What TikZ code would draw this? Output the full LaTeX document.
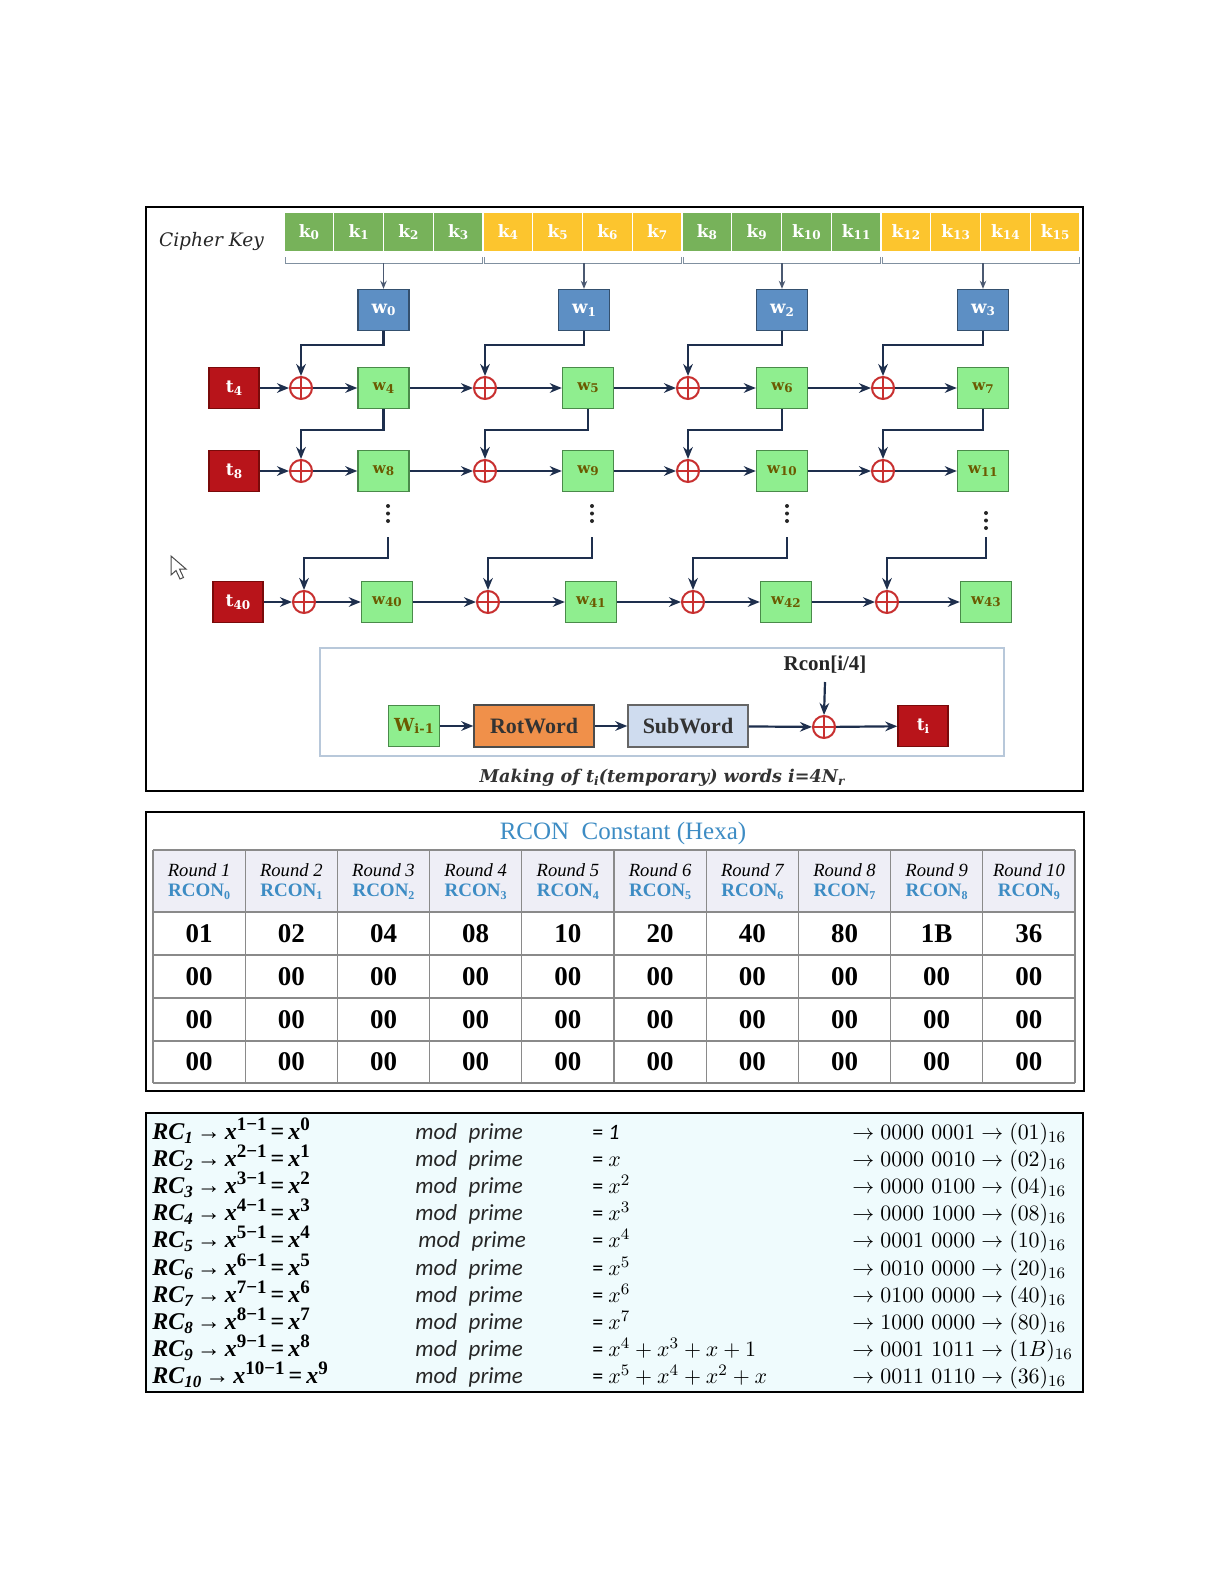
\documentclass[tikz,border=0pt]{standalone}
\usepackage{fontspec}
\newfontfamily\dvs{DejaVu Serif}
\newfontfamily\lib{Liberation Serif}
\newfontfamily\carl{Carlito}
\usetikzlibrary{arrows.meta,calc}
\definecolor{cnavy}{HTML}{1E2F4D}
\definecolor{keygreen}{HTML}{77B25A}
\definecolor{keyyellow}{HTML}{FCC52E}
\definecolor{bluefill}{HTML}{5D8FC4}
\definecolor{blueline}{HTML}{34506E}
\definecolor{grfill}{HTML}{8FEE8F}
\definecolor{grline}{HTML}{4A8A4A}
\definecolor{olive}{HTML}{6B5A00}
\definecolor{redfill}{HTML}{B8141A}
\definecolor{redline}{HTML}{7A0A0A}
\definecolor{xred}{HTML}{C83030}
\definecolor{orangefill}{HTML}{F0904A}
\definecolor{subfill}{HTML}{CFDCEF}
\definecolor{innerline}{HTML}{B8C8DA}
\definecolor{brkgray}{HTML}{8090A0}
\definecolor{hdrfill}{HTML}{EEEEF6}
\definecolor{gridgray}{HTML}{8A8A8A}
\definecolor{rconblue}{HTML}{3D8CC4}
\definecolor{cyanbg}{HTML}{EFFBFD}
\newcommand\wsub[2]{#1\raisebox{-0.3ex}{\fontsize{6}{6}\selectfont #2}}
\newcommand\subd[1]{\raisebox{-0.35ex}{\fontsize{6}{6}\selectfont #1}}
\newcommand\rcl[3]{{\lib\bfseries\itshape RC\raisebox{-0.45ex}{\fontsize{8.5}{8.5}\selectfont #1}}\,{\lib\bfseries →\,\textit{x}\raisebox{0.8ex}{\fontsize{9.5}{9.5}\selectfont #2−1}\,=\,\textit{x}\raisebox{0.8ex}{\fontsize{9.5}{9.5}\selectfont #3}}}
\tikzset{
  panel/.style={draw=black, line width=1.2pt},
  arr/.style={-{Stealth[length=6pt,width=4.8pt]}, line width=1.1pt, draw=cnavy},
  thinarr/.style={-{Stealth[length=4pt,width=3.2pt]}, line width=0.6pt, draw=cnavy!80},
  brk/.style={draw=brkgray, line width=0.5pt},
  keycell/.style={rectangle, draw=white, line width=0.6pt, minimum width=24.875pt, minimum height=20pt, inner sep=0pt, text=white, font=\dvs\bfseries\fontsize{8.5}{8.5}\selectfont},
  bluebox/.style={rectangle, fill=bluefill, draw=blueline, line width=0.7pt, minimum width=25.5pt, minimum height=20.5pt, inner sep=0pt, text=white, font=\dvs\bfseries\fontsize{9}{9}\selectfont},
  greenbox/.style={rectangle, fill=grfill, draw=grline, line width=0.7pt, minimum width=25.5pt, minimum height=20.5pt, inner sep=0pt, text=olive, font=\dvs\bfseries\fontsize{7.5}{7.5}\selectfont},
  redbox/.style={rectangle, fill=redfill, draw=redline, line width=0.7pt, minimum width=25pt, minimum height=20.5pt, inner sep=0pt, text=white, font=\dvs\bfseries\fontsize{8.5}{8.5}\selectfont},
  xor/.style={circle, draw=xred, line width=1pt, fill=white, minimum size=11pt, inner sep=0pt,
    path picture={\draw[xred, line width=1pt] (path picture bounding box.north) -- (path picture bounding box.south) (path picture bounding box.west) -- (path picture bounding box.east);}},
  hdrit/.style={font=\lib\itshape\fontsize{9.3}{9.3}\selectfont},
  hdrbf/.style={font=\lib\bfseries\fontsize{9.5}{9.5}\selectfont, text=rconblue},
  valtxt/.style={font=\lib\bfseries\fontsize{13.5}{13.5}\selectfont},
  dotc/.style={fill=black!85},
  rowL/.style={anchor=base west, inner sep=0pt, font=\fontsize{12}{12}\selectfont},
  rowM/.style={anchor=base west, inner sep=0pt, font=\carl\itshape\fontsize{11.5}{11.5}\selectfont, text=black!85},
  rowE/.style={anchor=base west, inner sep=0pt, font=\carl\fontsize{11}{11}\selectfont},
  rowR/.style={anchor=base west, inner sep=0pt, font=\fontsize{11.1}{11.1}\selectfont},
}
\begin{document}
\begin{tikzpicture}[x=0.5pt,y=-0.5pt]
\useasboundingbox (0,0) rectangle (1225,1585);
\fill[white] (0,0) rectangle (1225,1585);

% ================= Panel 1 =================
\draw[panel] (146,207) rectangle (1083,791);
\node[anchor=base west, font=\dvs\itshape\fontsize{9.3}{9.3}\selectfont, text=black!85] (ck) at (152,246) {Cipher Key};

\foreach \i in {0,...,15} {
  \pgfmathtruncatemacro\g{mod(floor(\i/4),2)}
  \ifnum\g=0 \def\kc{keygreen}\else\def\kc{keyyellow}\fi
  \node[keycell, fill=\kc] (k\i) at ({284+49.75*(\i+0.5)},232) {\wsub{k}{\i}};
}
\foreach \pa/\pb in {284/483, 483/682, 682/881, 881/1080}
  \draw[brk] (\pa+1,257) -- (\pa+1,263) -- (\pb-1,263) -- (\pb-1,257);

\foreach \j/\wx in {0/383.5, 1/584, 2/782, 3/983} {
  \node[bluebox] (w\j) at (\wx,310) {\wsub{w}{\j}};
  \coordinate (b\j) at (\wx,263);
  \draw[thinarr] (b\j) -- (w\j.north);
}

\node[redbox] (t4) at (234,388) {\wsub{t}{4}};
\foreach \j/\xx/\wx/\n in {0/301/383.5/4, 1/485/588/5, 2/688/782/6, 3/883/983/7} {
  \node[xor] (xa\j) at (\xx,388) {};
  \node[greenbox] (w\n) at (\wx,388) {\wsub{w}{\n}};
  \draw[arr] (xa\j) -- (w\n);
  \draw[arr] (w\j.south) -- (w\j.south |- 0,345) -| (xa\j.north);
}
\draw[arr] (t4) -- (xa0);
\draw[arr] (w4) -- (xa1);
\draw[arr] (w5) -- (xa2);
\draw[arr] (w6) -- (xa3);

\node[redbox] (t8) at (234,471) {\wsub{t}{8}};
\foreach \j/\xx/\wx/\n/\p in {0/301/383.5/8/4, 1/485/588/9/5, 2/688/782/10/6, 3/883/983/11/7} {
  \node[xor] (xb\j) at (\xx,471) {};
  \node[greenbox] (w\n) at (\wx,471) {\wsub{w}{\n}};
  \draw[arr] (xb\j) -- (w\n);
  \draw[arr] (w\p.south) -- (w\p.south |- 0,430) -| (xb\j.north);
}
\draw[arr] (t8) -- (xb0);
\draw[arr] (w8) -- (xb1);
\draw[arr] (w9) -- (xb2);
\draw[arr] (w10) -- (xb3);

\foreach \dx/\dy in {388/506, 592/506, 787/506, 986/513} {
  \fill[dotc] (\dx,\dy) circle (1pt);
  \fill[dotc] (\dx,\dy+7.5) circle (1pt);
  \fill[dotc] (\dx,\dy+15) circle (1pt);
}

\node[redbox] (t40) at (238,602) {\wsub{t}{40}};
\foreach \j/\xx/\wx/\n/\dx in {0/304/387/40/388, 1/488/591/41/592, 2/693/786/42/787, 3/887/986/43/986} {
  \node[xor] (xc\j) at (\xx,602) {};
  \node[greenbox] (w\n) at (\wx,602) {\wsub{w}{\n}};
  \draw[arr] (xc\j) -- (w\n);
  \coordinate (d\j) at (\dx,537);
  \draw[arr] (d\j) -- (d\j |- 0,558) -| (xc\j.north);
}
\draw[arr] (t40) -- (xc0);
\draw[arr] (w40) -- (xc1);
\draw[arr] (w41) -- (xc2);
\draw[arr] (w42) -- (xc3);

\draw[draw=innerline, line width=0.8pt] (320,648) rectangle (1004,756);
\node[greenbox, font=\dvs\bfseries\fontsize{9}{9}\selectfont] (wim) at (414,726) {W\raisebox{-0.3ex}{\fontsize{6.5}{6.5}\selectfont i-1}};
\node[rectangle, fill=orangefill, draw=black!70, line width=0.7pt, minimum width=60pt, minimum height=21pt, inner sep=0pt, text=black!80, font=\lib\bfseries\fontsize{11}{11}\selectfont] (rot) at (534,726) {RotWord};
\node[rectangle, fill=subfill, draw=black!60, line width=0.7pt, minimum width=60pt, minimum height=21pt, inner sep=0pt, text=black!80, font=\lib\bfseries\fontsize{11}{11}\selectfont] (sub) at (688,726) {SubWord};
\node[xor] (xi) at (824,727) {};
\node[redbox] (ti) at (923,726) {\wsub{t}{i}};
\node[font=\lib\bfseries\fontsize{10.5}{10.5}\selectfont, text=black!85] (rcon) at (825,665) {Rcon[i/4]};
\coordinate (rc1) at (825,682);
\draw[arr] (wim) -- (rot);
\draw[arr] (rot) -- (sub);
\draw[arr] (sub) -- (xi);
\draw[arr] (xi) -- (ti);
\draw[arr] (rc1) -- (xi.north);
\node[anchor=base, font=\dvs\bfseries\itshape\fontsize{8.8}{8.8}\selectfont, text=black!80] (cap) at (662,782) {Making of t\subd{i}(temporary) words i=4N\subd{r}};

\draw[black!70, fill=white, line width=0.5pt] (171,556) -- (171,575) -- (176,570.5) -- (180,579) -- (183.5,577.5) -- (179.5,569) -- (186,569) -- cycle;

% ================= Panel 2 =================
\draw[panel] (146,812) rectangle (1084,1091);
\node[font=\lib\fontsize{12.5}{12.5}\selectfont, text=rconblue] (title) at (623,833) {RCON\ \ Constant (Hexa)};
\fill[hdrfill] (153,850) rectangle (1075,912);
\foreach \yy in {850,912,955,998,1041,1083}
  \draw[gridgray, line width=0.6pt] (153,\yy) -- (1075,\yy);
\foreach \i in {0,...,10}
  \draw[gridgray, line width=0.6pt] ({153+92.2*\i},850) -- ({153+92.2*\i},1083);
\foreach \v [count=\i from 0] in {01,02,04,08,10,20,40,80,1B,36} {
  \pgfmathtruncatemacro\rn{\i+1}
  \node[hdrit] (hr\i) at ({153+92.2*(\i+0.5)},870) {Round \rn};
  \node[hdrbf] (hc\i) at ({153+92.2*(\i+0.5)},892) {RCON\subd{\i}};
  \node[valtxt] (va\i) at ({153+92.2*(\i+0.5)},934) {\v};
  \node[valtxt] (vb\i) at ({153+92.2*(\i+0.5)},977) {00};
  \node[valtxt] (vc\i) at ({153+92.2*(\i+0.5)},1020) {00};
  \node[valtxt] (vd\i) at ({153+92.2*(\i+0.5)},1062) {00};
}

% ================= Panel 3 =================
\filldraw[panel, fill=cyanbg] (146,1113) rectangle (1083,1392);
\node[rowL] (rl1) at (152,1139) {\rcl{1}{1}{0}};
\node[rowM] (rm1) at (415,1139) {mod\enspace prime};
\node[rowE] (re1) at (592,1139) {= \textit{1}};
\node[rowR] (rr1) at (852,1139) {$\rightarrow 0000\ 0001\rightarrow (01)_{16}$};
\node[rowL] (rl2) at (152,1166) {\rcl{2}{2}{1}};
\node[rowM] (rm2) at (415,1166) {mod\enspace prime};
\node[rowE] (re2) at (592,1166) {= $x$};
\node[rowR] (rr2) at (852,1166) {$\rightarrow 0000\ 0010\rightarrow (02)_{16}$};
\node[rowL] (rl3) at (152,1193) {\rcl{3}{3}{2}};
\node[rowM] (rm3) at (415,1193) {mod\enspace prime};
\node[rowE] (re3) at (592,1193) {= $x^{2}$};
\node[rowR] (rr3) at (852,1193) {$\rightarrow 0000\ 0100\rightarrow (04)_{16}$};
\node[rowL] (rl4) at (152,1220) {\rcl{4}{4}{3}};
\node[rowM] (rm4) at (415,1220) {mod\enspace prime};
\node[rowE] (re4) at (592,1220) {= $x^{3}$};
\node[rowR] (rr4) at (852,1220) {$\rightarrow 0000\ 1000\rightarrow (08)_{16}$};
\node[rowL] (rl5) at (152,1247) {\rcl{5}{5}{4}};
\node[rowM] (rm5) at (418,1247) {mod\enspace prime};
\node[rowE] (re5) at (592,1247) {= $x^{4}$};
\node[rowR] (rr5) at (852,1247) {$\rightarrow 0001\ 0000\rightarrow (10)_{16}$};
\node[rowL] (rl6) at (152,1275) {\rcl{6}{6}{5}};
\node[rowM] (rm6) at (415,1275) {mod\enspace prime};
\node[rowE] (re6) at (592,1275) {= $x^{5}$};
\node[rowR] (rr6) at (852,1275) {$\rightarrow 0010\ 0000\rightarrow (20)_{16}$};
\node[rowL] (rl7) at (152,1302) {\rcl{7}{7}{6}};
\node[rowM] (rm7) at (415,1302) {mod\enspace prime};
\node[rowE] (re7) at (592,1302) {= $x^{6}$};
\node[rowR] (rr7) at (852,1302) {$\rightarrow 0100\ 0000\rightarrow (40)_{16}$};
\node[rowL] (rl8) at (152,1329) {\rcl{8}{8}{7}};
\node[rowM] (rm8) at (415,1329) {mod\enspace prime};
\node[rowE] (re8) at (592,1329) {= $x^{7}$};
\node[rowR] (rr8) at (852,1329) {$\rightarrow 1000\ 0000\rightarrow (80)_{16}$};
\node[rowL] (rl9) at (152,1356) {\rcl{9}{9}{8}};
\node[rowM] (rm9) at (415,1356) {mod\enspace prime};
\node[rowE] (re9) at (592,1356) {= $x^{4}+x^{3}+x+1$};
\node[rowR] (rr9) at (852,1356) {$\rightarrow 0001\ 1011\rightarrow (1B)_{16}$};
\node[rowL] (rl10) at (152,1383) {\rcl{10}{10}{9}};
\node[rowM] (rm10) at (415,1383) {mod\enspace prime};
\node[rowE] (re10) at (592,1383) {= $x^{5}+x^{4}+x^{2}+x$};
\node[rowR] (rr10) at (852,1383) {$\rightarrow 0011\ 0110\rightarrow (36)_{16}$};
\end{tikzpicture}
\end{document}
